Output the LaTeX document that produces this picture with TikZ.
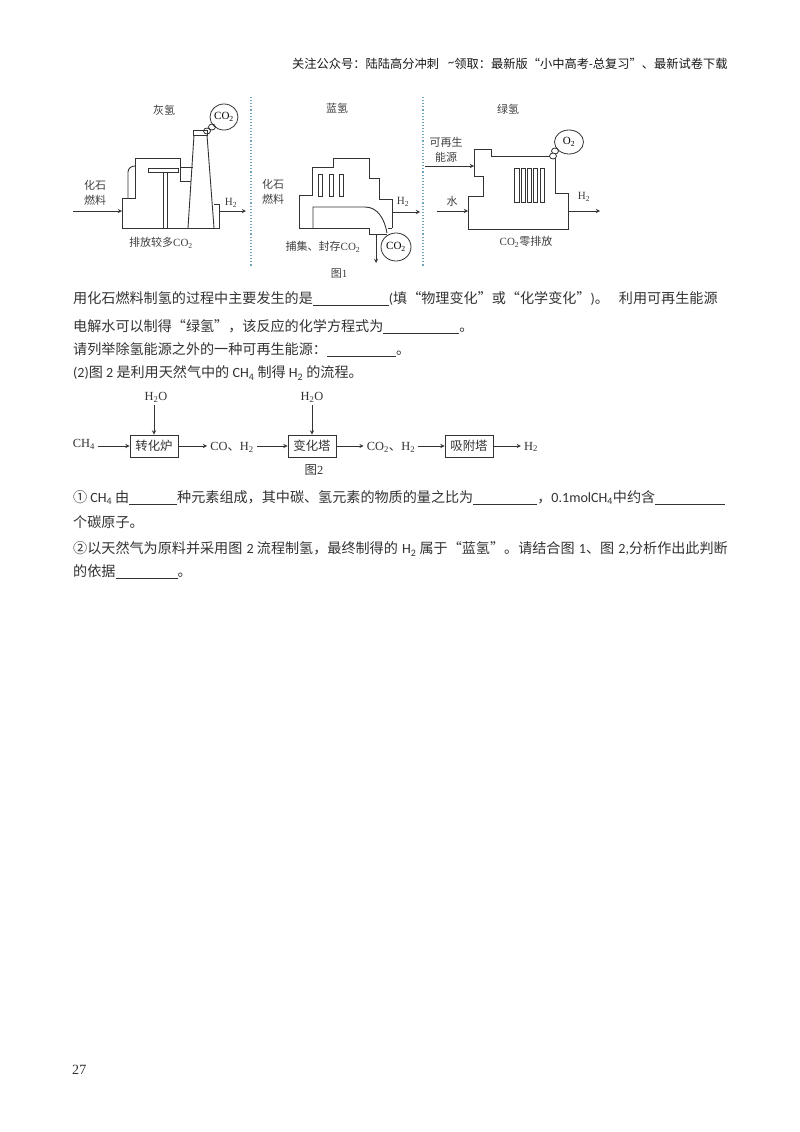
\documentclass[tikz,border=0pt]{standalone}
\usepackage{fontspec}
\setmainfont{Noto Sans CJK SC}
\newfontfamily\latinbody{Carlito}
\newfontfamily\latinfig{Liberation Serif}
\usetikzlibrary{positioning}
\usetikzlibrary{shapes.geometric}
\newcommand{\bl}[1]{\rule[-2.5pt]{#1pt}{0.9pt}}
\newcommand{\lb}[1]{{\latinbody #1}}
\newcommand{\lf}[1]{{\latinfig #1}}
\newcommand{\cotwo}{\lf{CO\textsubscript{2}}}
\newcommand{\htwo}{\lf{H\textsubscript{2}}}
\newcommand{\bodysize}{\fontsize{14.1}{17}\selectfont}
\tikzset{
  body/.style={anchor=west,inner sep=0pt,text=black!80,font=\bodysize},
  head/.style={anchor=west,inner sep=0pt,text=black!90,font=\fontsize{12.25}{16}\selectfont},
  label/.style={inner sep=0pt,align=center,text=black!75,font=\fontsize{11}{14.5}\selectfont},
  plant/.style={draw=black!80,line width=0.9pt,line join=miter},
  sep/.style={draw=cyan!60!black!70,dotted,line width=1.1pt},
  cloud/.style={draw=black!80,ellipse,line width=0.8pt},
  furnace/.style={draw=black!80,line width=0.9pt,minimum width=48pt,minimum height=22pt,inner sep=0pt,text=black!80,font=\fontsize{12.4}{15}\selectfont},
  flow/.style={inner sep=3pt,text=black!80,font=\fontsize{12.4}{15}\selectfont},
  arr/.style={-stealth,line width=0.9pt,color=black!80},
}
\begin{document}
\begin{tikzpicture}[x=1pt,y=-1pt]
\useasboundingbox[fill=white] (0,0) rectangle (800,1132);

% header
\node[head] (header) at (292,64) {关注公众号：陆陆高分冲刺\hspace{9pt}\raisebox{2pt}{\lb{\textasciitilde}}领取：最新版“小中高考\lb{-}总复习”、最新试卷下载};

% separators
\coordinate (sepa) at (251,97);
\coordinate (sepb) at (251,267);
\coordinate (sepc) at (423,97);
\coordinate (sepd) at (423,267);
\draw[sep] (sepa) -- (sepb);
\draw[sep] (sepc) -- (sepd);

% grey plant
\draw[plant] (122,228) -- (122,198) -- (135,198) -- (135,158) -- (180,158) -- (180,181) -- (191,181);
\draw[plant] (180,167) -- (193,167);
\draw[plant] (128,198) -- (128,172) to[out=90,in=180] (135,166);
\draw[plant] (188,228) -- (194,135) (207,135) -- (214,228);
\draw[plant] (193,130) rectangle (207,135);
\draw[plant] (214,204) -- (219,204) -- (219,228) -- (122,228);
\draw[plant] (148,168) rectangle (178,172);
\draw[plant] (163,172) -- (163,228) (167,172) -- (167,228);
\node[cloud,minimum width=28pt,minimum height=26pt,inner sep=0pt] (cloudgrey) at (224,117) {\fontsize{11}{13}\selectfont\cotwo};
\node[cloud,minimum width=7pt,minimum height=6pt,inner sep=0pt] (puffa) at (212,127) {};
\node[cloud,minimum width=7pt,minimum height=6pt,inner sep=0pt] (puffb) at (207,131) {};
\node[label] (titlegrey) at (164,110) {灰氢};
\node[label] (fuelgrey) at (95,193) {化石\\燃料};
\node[label] (h2grey) at (231,203) {\htwo};
\node[label] (notegrey) at (161,243) {排放较多\cotwo};
\coordinate (ingrey) at (73,211);
\coordinate (wallgrey) at (122,211);
\coordinate (outgreya) at (219,211);
\coordinate (outgreyb) at (246,211);
\draw[arr] (ingrey) -- (wallgrey);
\draw[arr] (outgreya) -- (outgreyb);

% blue plant
\draw[plant] (392,228) -- (392,199) -- (379,199) -- (379,178) -- (369,178) -- (369,158) -- (333,158) -- (333,167) -- (312,167) -- (312,195) -- (299,195) -- (299,228) -- (369,228) -- (369,234) -- (387,234);
\draw[plant] (388,228) -- (392,228);
\draw[plant] (313,228) -- (313,207) -- (365,207) to[out=0,in=100] (387,233);
\foreach \x in {318,329,339}
  \draw[plant] (\x,174) rectangle ++(4.5,22);
\node[cloud,minimum width=30pt,minimum height=28pt,inner sep=0pt] (cloudblue) at (396,247) {\fontsize{11}{13}\selectfont\cotwo};
\node[label] (titleblue) at (337,108) {蓝氢};
\node[label] (fuelblue) at (273,192) {化石\\燃料};
\node[label] (h2blue) at (403,202) {\htwo};
\node[label] (noteblue) at (323,247) {捕集、封存\cotwo};
\node[label] (figone) at (339,274) {图\lf{1}};
\coordinate (outbluea) at (392,212);
\coordinate (outblueb) at (420,212);
\coordinate (downa) at (376,234);
\coordinate (downb) at (376,263);
\draw[arr] (outbluea) -- (outblueb);
\draw[arr] (downa) -- (downb);

% green plant
\draw[plant] (468,229) -- (468,196) -- (483,196) -- (483,176) -- (474,176) -- (474,149) -- (491,149) -- (491,156) -- (555,156) -- (555,193) -- (568,193) -- (568,229) -- cycle;
\foreach \x/\w in {514.3/5,521.7/4,527.7/4,533.7/4,540/4}
  \draw[plant,line width=0.7pt] (\x,168) rectangle ++(\w,34);
\node[cloud,minimum width=29pt,minimum height=24pt,inner sep=0pt] (cloudgreen) at (569,142) {\fontsize{11}{13}\selectfont\lf{O\textsubscript{2}}};
\node[cloud,minimum width=7pt,minimum height=6pt,inner sep=0pt] (puffc) at (555,151) {};
\node[cloud,minimum width=7pt,minimum height=6pt,inner sep=0pt,fill=white] (puffd) at (553,156) {};
\node[label] (titlegreen) at (508,109) {绿氢};
\node[label] (powergreen) at (446,150) {可再生\\能源};
\node[label] (water) at (452,201) {水};
\node[label] (h2green) at (584,197) {\htwo};
\node[label] (notegreen) at (526,242) {\cotwo 零排放};
\coordinate (powera) at (425,166);
\coordinate (powerb) at (474,166);
\coordinate (watera) at (437,211);
\coordinate (waterb) at (468,211);
\coordinate (outgreena) at (568,211);
\coordinate (outgreenb) at (600,211);
\draw[arr] (powera) -- (powerb);
\draw[arr] (watera) -- (waterb);
\draw[arr] (outgreena) -- (outgreenb);

% first text block
\node[body] (lineone) at (73,299) {用化石燃料制氢的过程中主要发生的是\bl{76}\lb{(}填“物理变化”或“化学变化”\lb{)}。\hspace{10pt}利用可再生能源};
\node[body] (linetwo) at (73,327) {电解水可以制得“绿氢”，该反应的化学方程式为\bl{76}。};
\node[body] (linethree) at (73,350) {请列举除氢能源之外的一种可再生能源：\bl{69}。};
\node[body] (linefour) at (73,373) {\lb{(2)}图\lb{ 2 }是利用天然气中的\lb{ CH\textsubscript{4} }制得\lb{ H\textsubscript{2} }的流程。};

% flow
\node[furnace] (reformer) at (154,446) {转化炉};
\node[furnace] (shift) at (312,446) {变化塔};
\node[furnace] (adsorb) at (469,446) {吸附塔};
\node[flow] (methane) at (84,444) {\lf{CH\textsubscript{4}}};
\node[flow] (syngas) at (232,447) {\lf{CO}、\htwo};
\node[flow] (shiftgas) at (391,447) {\cotwo、\htwo};
\node[flow] (product) at (531,447) {\htwo};
\node[flow] (steama) at (156,397) {\lf{H\textsubscript{2}O}};
\node[flow] (steamb) at (312,397) {\lf{H\textsubscript{2}O}};
\node[flow] (figtwo) at (314,470) {图\lf{2}};
\path[arr]
  (methane.east |- reformer) edge (reformer)
  (reformer) edge (syngas.west |- reformer)
  (syngas.east |- shift) edge (shift)
  (shift) edge (shiftgas.west |- shift)
  (shiftgas.east |- adsorb) edge (adsorb)
  (adsorb) edge (product.west |- adsorb)
  (reformer |- steama.south) edge (reformer)
  (shift |- steamb.south) edge (shift)
  ;

% second text block
\node[body] (linefive) at (73,498) {①\hspace{3pt}\lb{CH\textsubscript{4}}\hspace{3pt}由\bl{48}种元素组成，其中碳、氢元素的物质的量之比为\bl{64}，\lb{0.1molCH\textsubscript{4}}中约含\bl{70}};
\node[body] (linesix) at (73,522) {个碳原子。};
\node[body] (lineseven) at (73,549) {②以天然气为原料并采用图\lb{\hspace{1pt} 2 }流程制氢，最终制得的\lb{\hspace{1pt} H\textsubscript{2} }属于“蓝氢”。请结合图\lb{\hspace{1pt} 1}、图\lb{\hspace{1pt} 2,}分析作出此判断};
\node[body] (lineeight) at (73,572) {的依据\bl{62}。};

% page number
\node[body,font=\fontsize{14.1}{17}\selectfont\latinfig] (pagenum) at (72,1070) {27};
\end{tikzpicture}
\end{document}
